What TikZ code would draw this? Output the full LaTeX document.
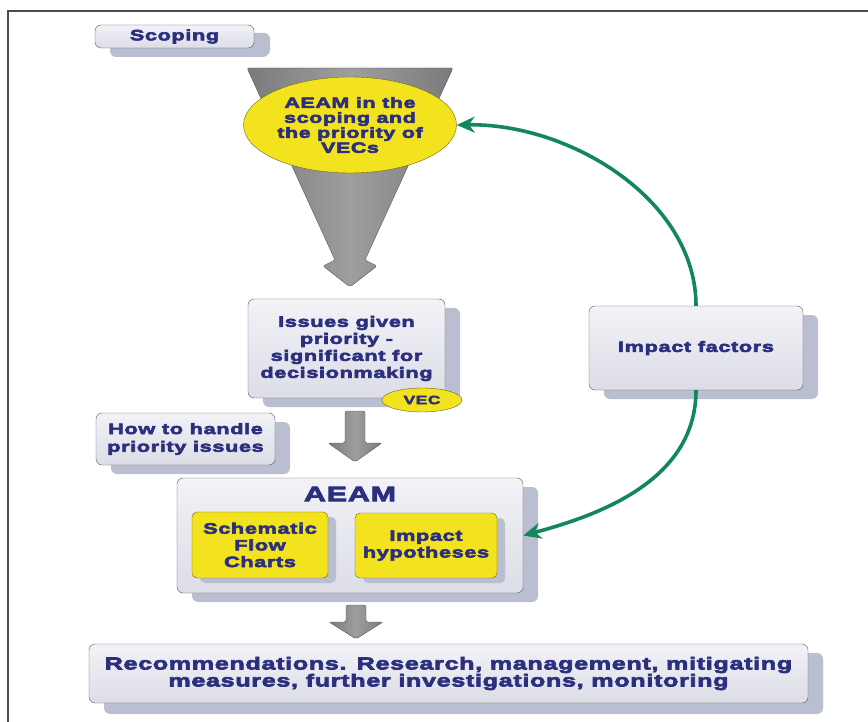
\documentclass[tikz,border=0pt]{standalone}
\usepackage{fontspec}
\newfontfamily\heavy{Liberation Sans}[FakeStretch=1.45,LetterSpace=4,FakeBold=4]
\usetikzlibrary{shapes,shadows,arrows.meta}
\definecolor{navy}{HTML}{2B2F7E}
\definecolor{boxtop}{HTML}{F2F2F7}
\definecolor{boxbot}{HTML}{DCDDE6}
\definecolor{boxline}{HTML}{55555C}
\definecolor{shadowcol}{HTML}{B9BED0}
\definecolor{vecyellow}{HTML}{F3E21E}
\definecolor{olive}{HTML}{6B6420}
\definecolor{loopgreen}{HTML}{11875A}

\begin{document}
\begin{tikzpicture}[x=1pt,y=-1pt]
        \tikzstyle{every node}+=[inner sep=0pt, align=center, text=navy, font=\heavy\bfseries\fontsize{15}{17}\selectfont]
        \tikzstyle{panel}=[draw=boxline, rounded corners=6pt, top color=boxtop, bottom color=boxbot,
                drop shadow={shadow xshift=15pt, shadow yshift=-9pt, fill=shadowcol, opacity=1}]
        \tikzstyle{yellowbox}=[draw=olive, rounded corners=5pt, fill=vecyellow,
                drop shadow={shadow xshift=8pt, shadow yshift=-5pt, fill=shadowcol, opacity=1}]
        \tikzstyle{yellowoval}=[draw=olive, ellipse, fill=vecyellow]
        \tikzstyle{grayblock}=[draw=black!65, left color=black!52, right color=black!52, middle color=black!38, rounded corners=2pt]
        \tikzstyle{feedback}=[loopgreen, line width=3.6pt, -{Stealth[length=18pt,width=16pt]}]
        \useasboundingbox (0,0) rectangle (868,722);
        % frame
        \draw [black!70, line width=1.8pt] (8,722) -- (8,11) -- (868,11);
        % scoping funnel
        \draw [grayblock] (247,68) -- (453,68) -- (365,260) -- (377,266) -- (350,287) -- (323,266) -- (335,260) -- cycle;
        \node [panel, minimum width=159, minimum height=23, drop shadow={shadow xshift=16pt, shadow yshift=-8pt, fill=shadowcol, opacity=1}] (scoping) at (174.5,36.5) {Scoping};
        \node [yellowoval, minimum width=213, minimum height=96, font=\heavy\bfseries\fontsize{14.8}{15}\selectfont] (vecs) at (350,125) {AEAM in the\\scoping and\\the priority of\\VECs};
        % boxes
        \node [panel, minimum width=197, minimum height=99] (issues) at (346.5,348.5) {Issues given\\priority -\\significant for\\decisionmaking};
        \node [yellowoval, minimum width=80, minimum height=24, font=\heavy\bfseries\fontsize{12}{14}\selectfont] (vec) at (422,400) {VEC};
        \node [panel, minimum width=179, minimum height=52, font=\heavy\bfseries\fontsize{15}{17.7}\selectfont] (howto) at (185.5,439) {How to handle\\priority issues};
        \node [panel, minimum width=214, minimum height=84] (impact) at (696,348) {Impact factors};
        \node [panel, minimum width=346, minimum height=115] (aeam) at (350,535.5) {};
        \node [font=\heavy\bfseries\fontsize{21}{21}\selectfont] (aeamtitle) at (350,494) {AEAM};
        \node [yellowbox, minimum width=136, minimum height=66, font=\heavy\bfseries\fontsize{15}{16.7}\selectfont] (charts) at (260,545) {Schematic\\Flow\\Charts};
        \node [yellowbox, minimum width=142, minimum height=65, font=\heavy\bfseries\fontsize{15}{16.7}\selectfont] (hypo) at (426,545.5) {Impact\\hypotheses};
        \node [panel, minimum width=719, minimum height=59, drop shadow={shadow xshift=15pt, shadow yshift=-11pt, fill=shadowcol, opacity=1}, font=\heavy\bfseries\fontsize{17.3}{17}\selectfont] (recs) at (448.5,673.5) {Recommendations. Research, management, mitigating\\measures, further investigations, monitoring};
        % block arrows
        \draw [grayblock] (345,411) -- (365,411) -- (365,443) -- (382,443) -- (355,462) -- (328,443) -- (345,443) -- cycle;
        \draw [grayblock] (346,605) -- (366,605) -- (366,622) -- (383,622) -- (356,639) -- (329,622) -- (346,622) -- cycle;
        % green loop
        \draw [feedback] (impact.north) .. controls (696,200) and (570,123) .. (vecs.east);
        \draw [feedback] (impact.south) .. controls (696,480) and (600,515) .. (aeam.east);
\end{tikzpicture}
\end{document}
